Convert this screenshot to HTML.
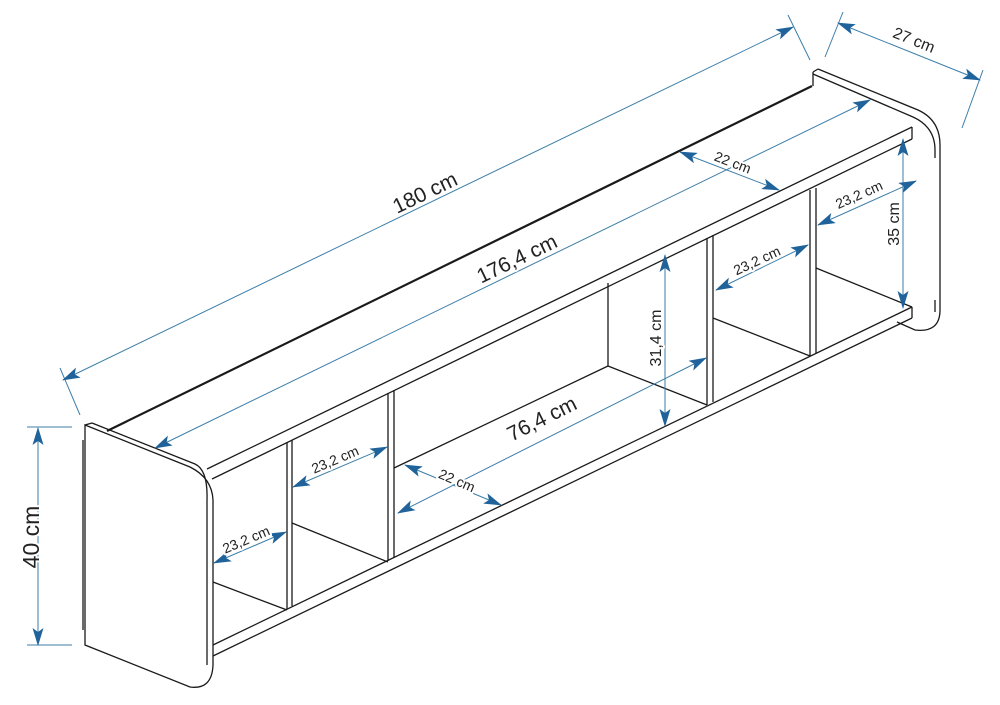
<!DOCTYPE html>
<html><head><meta charset="utf-8"><style>
html,body{margin:0;padding:0;background:#fff;}
svg{display:block;}
text{font-family:"Liberation Sans",sans-serif;fill:#222;paint-order:stroke;stroke:#fff;stroke-width:4px;stroke-linejoin:round;}
</style></head><body>
<svg width="1000" height="705" viewBox="0 0 1000 705" xmlns="http://www.w3.org/2000/svg">
<defs>
<marker id="a" viewBox="0 0 18 11" refX="17" refY="5.5" markerWidth="18" markerHeight="11" markerUnits="userSpaceOnUse" orient="auto-start-reverse">
<path d="M0,0 L18,5.5 L0,11 L4,5.5 Z" fill="#1f639a"/>
</marker>
</defs>
<g fill="none" stroke="#1a1a1a" stroke-width="1.3">
<line x1="107" y1="431" x2="812" y2="86" stroke-width="2.2"/>
<line x1="207" y1="469" x2="912" y2="127"/>
<line x1="212" y1="479" x2="912" y2="139"/>
<line x1="912" y1="127" x2="912" y2="139"/>
<line x1="213" y1="645" x2="912" y2="307"/>
<line x1="213" y1="656" x2="912" y2="318"/>
<line x1="912" y1="307" x2="912" y2="318"/>
<path d="M85,425 L190,467 Q212,478 213,500 L213,665 Q212,690 190,687 L85,645 Z" fill="#fff"/>
<path d="M92,423 L195,464 Q208,470 207,500 L207,665"/>
<line x1="83" y1="440" x2="83" y2="630"/>
<line x1="85" y1="425" x2="92" y2="423"/>
<!-- right panel -->
<path d="M818,69 L918,110 Q940,120 940,145 L940,310 Q940,333 915,330 L897,322"/>
<path d="M813,74 L913,117 Q935,127 935,150"/>
<line x1="813" y1="72" x2="818" y2="69"/>
<line x1="813" y1="72" x2="813" y2="86"/>
<line x1="935" y1="150" x2="935" y2="158"/>
<line x1="935" y1="300" x2="935" y2="312"/>
<line x1="287" y1="442" x2="287" y2="609"/>
<line x1="292" y1="440" x2="292" y2="606"/>
<line x1="388" y1="393" x2="388" y2="561"/>
<line x1="394" y1="390" x2="394" y2="558"/>
<line x1="707" y1="238" x2="707" y2="405"/>
<line x1="713" y1="235" x2="713" y2="402"/>
<line x1="810" y1="190" x2="810" y2="356"/>
<line x1="816" y1="188" x2="816" y2="353"/>
<line x1="213" y1="582" x2="287" y2="610"/>
<line x1="292" y1="523" x2="388" y2="562"/>
<polyline points="394,468 608,366 707,405"/>
<line x1="608" y1="283" x2="608" y2="366"/>
<line x1="713" y1="318" x2="810" y2="356"/>
<line x1="816" y1="268" x2="912" y2="307"/>
</g>
<g stroke="#3d7ea8" stroke-width="1" fill="none">
<line x1="60" y1="368" x2="80" y2="415"/>
<line x1="788" y1="15" x2="810" y2="60"/>
<line x1="843" y1="12" x2="825" y2="57"/>
<line x1="983" y1="70" x2="962" y2="128"/>
<line x1="27" y1="427" x2="72" y2="427"/>
<line x1="27" y1="645" x2="72" y2="645"/>
<line x1="63" y1="380" x2="793" y2="27" marker-start="url(#a)" marker-end="url(#a)"/>
<line x1="155" y1="448" x2="870" y2="100" marker-start="url(#a)" marker-end="url(#a)"/>
<line x1="838" y1="23" x2="980" y2="80" marker-start="url(#a)" marker-end="url(#a)"/>
<line x1="680" y1="152" x2="779" y2="190" marker-start="url(#a)" marker-end="url(#a)"/>
<line x1="903" y1="139" x2="903" y2="308" marker-start="url(#a)" marker-end="url(#a)"/>
<line x1="818" y1="225" x2="916" y2="181" marker-start="url(#a)" marker-end="url(#a)"/>
<line x1="716" y1="290" x2="808" y2="245" marker-start="url(#a)" marker-end="url(#a)"/>
<line x1="665" y1="255" x2="665" y2="426" marker-start="url(#a)" marker-end="url(#a)"/>
<line x1="398" y1="513" x2="706" y2="358" marker-start="url(#a)" marker-end="url(#a)"/>
<line x1="405" y1="465" x2="501" y2="505" marker-start="url(#a)" marker-end="url(#a)"/>
<line x1="293" y1="487" x2="387" y2="447" marker-start="url(#a)" marker-end="url(#a)"/>
<line x1="214" y1="563" x2="286" y2="532" marker-start="url(#a)" marker-end="url(#a)"/>
<line x1="38" y1="428" x2="38" y2="645" marker-start="url(#a)" marker-end="url(#a)"/>
</g>
<g text-anchor="middle">
<text font-size="21" transform="translate(428,199) rotate(-25.8)">180 cm</text>
<text font-size="21" transform="translate(520,265) rotate(-25.8)">176,4 cm</text>
<text font-size="21" transform="translate(545,425) rotate(-26.7)">76,4 cm</text>
<text font-size="16" transform="translate(912,45) rotate(22)">27 cm</text>
<text font-size="14" transform="translate(731,167) rotate(21)">22 cm</text>
<text font-size="14" transform="translate(455,485) rotate(23)">22 cm</text>
<text font-size="16" transform="translate(899,224) rotate(-90)">35 cm</text>
<text font-size="16" transform="translate(661,338) rotate(-90)">31,4 cm</text>
<text font-size="14" transform="translate(861,199) rotate(-24)">23,2 cm</text>
<text font-size="14" transform="translate(759,265) rotate(-25)">23,2 cm</text>
<text font-size="14" transform="translate(337,464) rotate(-23)">23,2 cm</text>
<text font-size="14" transform="translate(248,544) rotate(-23)">23,2 cm</text>
<text font-size="23" transform="translate(39,537) rotate(-90)">40 cm</text>
</g>
</svg>
</body></html>
